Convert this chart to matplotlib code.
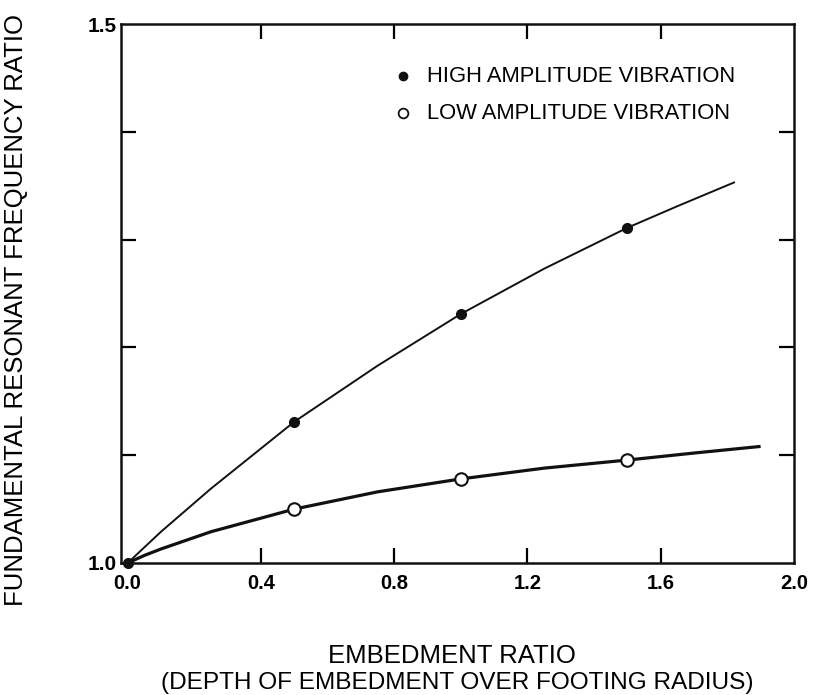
import numpy as np
import matplotlib as mpl
mpl.use('Agg')
import matplotlib.pyplot as plt

# measured points
pt_x = [0.5, 1.0, 1.5]
high_y = [1.131, 1.231, 1.311]
low_y = [1.050, 1.078, 1.0955]

# curves
high_cx = [0.0, 0.1, 0.25, 0.5, 0.75, 1.0, 1.25, 1.5, 1.65, 1.82]
high_cy = [1.0, 1.029, 1.069, 1.131, 1.183, 1.231, 1.273, 1.311, 1.331, 1.353]
low_cx = [0.0, 0.05, 0.1, 0.25, 0.5, 0.75, 1.0, 1.25, 1.5, 1.7, 1.895]
low_cy = [1.0, 1.007, 1.013, 1.029, 1.050, 1.066, 1.078, 1.088, 1.0955, 1.102, 1.108]

xticks = [0.0, 0.4, 0.8, 1.2, 1.6, 2.0]
yticks = [1.0, 1.1, 1.2, 1.3, 1.4, 1.5]
ylabels = ['1.0', '', '', '', '', '1.5']
legend_labels = ['HIGH AMPLITUDE VIBRATION', 'LOW AMPLITUDE VIBRATION']

plt.rcParams['font.family'] = ['Liberation Sans', 'DejaVu Sans']
ink = '#111111'

fig = plt.figure(figsize=(8.15, 6.95), dpi=100)
ax = fig.add_axes([121/815, 1-563/695, (794-121)/815, (563-24)/695])

ax.plot(high_cx, high_cy, color=ink, lw=1.4)
ax.plot(low_cx, low_cy, color=ink, lw=2.3)
ax.plot(pt_x, high_y, 'o', color=ink, ms=7, zorder=3)
ax.plot(pt_x, low_y, 'o', mfc='white', mec=ink, mew=1.5, ms=9, zorder=3)
ax.plot([0.0], [1.0], 'o', color=ink, ms=7, zorder=3, clip_on=False)

ax.set_xlim(-0.02, 2.0)
ax.set_ylim(1.0, 1.5)
ax.set_xticks(xticks)
ax.set_xticklabels(['%.1f' % v for v in xticks], fontweight='bold', fontsize=14.5)
ax.set_yticks(yticks)
ax.set_yticklabels(ylabels, fontweight='bold', fontsize=15)
ax.tick_params(direction='in', length=11, width=1.6, top=True, right=True)
ax.tick_params(axis='x', pad=8)
ax.tick_params(axis='y', pad=3)
for s in ax.spines.values():
    s.set_linewidth(1.8)
    s.set_color(ink)

# no ticks at the corners
for t in ax.xaxis.get_major_ticks():
    if t.get_loc() in (0.0, 2.0):
        t.tick1line.set_visible(False)
        t.tick2line.set_visible(False)
for t in ax.yaxis.get_major_ticks():
    if t.get_loc() in (1.0, 1.5):
        t.tick1line.set_visible(False)
        t.tick2line.set_visible(False)

# legend, hand placed
ly = [0.9035, 0.8345]
ax.plot([0.419], [ly[0]], 'o', color=ink, ms=6, transform=ax.transAxes)
ax.plot([0.419], [ly[1]], 'o', mfc='white', mec=ink, mew=1.3, ms=7, transform=ax.transAxes)
for yy, lab in zip(ly, legend_labels):
    ax.text(0.455, yy, lab, transform=ax.transAxes, ha='left', va='center', fontsize=15.8)

fig.text(452/815, 1-656/695, 'EMBEDMENT RATIO', ha='center', va='center', fontsize=18.5)
fig.text(457/815, 1-683/695, '(DEPTH OF EMBEDMENT OVER FOOTING RADIUS)', ha='center', va='center', fontsize=17.6)
fig.text(16/815, 1-310/695, 'FUNDAMENTAL RESONANT FREQUENCY RATIO', rotation=90,
         ha='center', va='center', fontsize=18.5)

fig.savefig('out.png', dpi=100)
